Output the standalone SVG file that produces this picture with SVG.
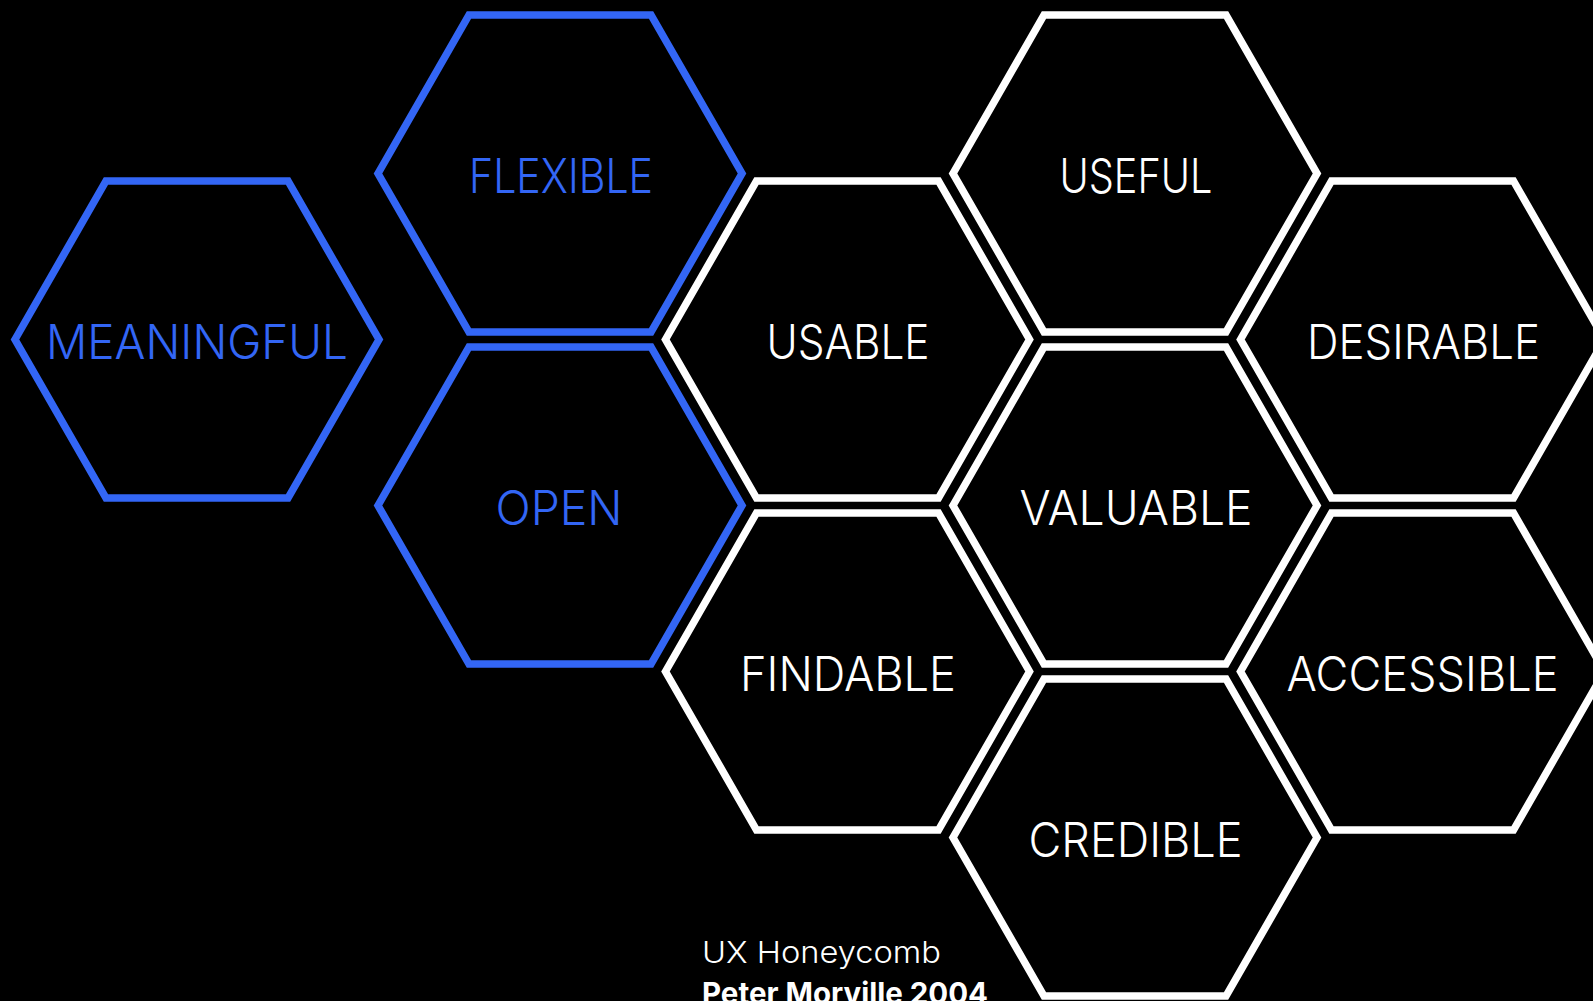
<svg xmlns="http://www.w3.org/2000/svg" xmlns:xlink="http://www.w3.org/1999/xlink" width="1593" height="1001" viewBox="0 0 1593 1001">
  <style>
    .hex { fill: #000000; stroke-width: 7.5; stroke-linejoin: miter; }
    .blue { stroke: #3366F5; }
    .white { stroke: #FFFFFF; }
    .lbl { font-family: Inter, "Liberation Sans", sans-serif; font-weight: 300; font-size: 48px; text-anchor: middle; }
    .lbl-blue { fill: #3366F5; }
    .lbl-white { fill: #FFFFFF; }
    .foot { font-family: Inter, "Liberation Sans", sans-serif; fill: #FFFFFF; font-size: 30px; }
  </style>
  <defs>
    <polygon id="hexshape" points="-182,0 -91,-158.5 91,-158.5 182,0 91,158.5 -91,158.5"/>
  </defs>
  <rect x="0" y="0" width="1593" height="1001" fill="#000000"/>
  <g id="connectors"/>

  <g id="meaningful">
    <use xlink:href="#hexshape" href="#hexshape" class="hex blue" transform="translate(197,339.5)"/>
    <text class="lbl lbl-blue" x="197" y="358.5" textLength="302" lengthAdjust="spacingAndGlyphs">MEANINGFUL</text>
  </g>
  <g id="flexible">
    <use xlink:href="#hexshape" href="#hexshape" class="hex blue" transform="translate(560,173.5)"/>
    <text class="lbl lbl-blue" x="561" y="192.5" textLength="184" lengthAdjust="spacingAndGlyphs">FLEXIBLE</text>
  </g>
  <g id="open">
    <use xlink:href="#hexshape" href="#hexshape" class="hex blue" transform="translate(560,505.5)"/>
    <text class="lbl lbl-blue" x="559" y="524.5" textLength="127" lengthAdjust="spacingAndGlyphs">OPEN</text>
  </g>
  <g id="usable">
    <use xlink:href="#hexshape" href="#hexshape" class="hex white" transform="translate(847.5,339.5)"/>
    <text class="lbl lbl-white" x="848" y="358.5" textLength="163" lengthAdjust="spacingAndGlyphs">USABLE</text>
  </g>
  <g id="findable">
    <use xlink:href="#hexshape" href="#hexshape" class="hex white" transform="translate(847.5,671.5)"/>
    <text class="lbl lbl-white" x="848" y="690.5" textLength="216" lengthAdjust="spacingAndGlyphs">FINDABLE</text>
  </g>
  <g id="useful">
    <use xlink:href="#hexshape" href="#hexshape" class="hex white" transform="translate(1135,173.5)"/>
    <text class="lbl lbl-white" x="1136" y="192.5" textLength="153" lengthAdjust="spacingAndGlyphs">USEFUL</text>
  </g>
  <g id="valuable">
    <use xlink:href="#hexshape" href="#hexshape" class="hex white" transform="translate(1135,505.5)"/>
    <text class="lbl lbl-white" x="1136" y="524.5" textLength="233" lengthAdjust="spacingAndGlyphs">VALUABLE</text>
  </g>
  <g id="credible">
    <use xlink:href="#hexshape" href="#hexshape" class="hex white" transform="translate(1135,837.5)"/>
    <text class="lbl lbl-white" x="1135.5" y="856.5" textLength="214" lengthAdjust="spacingAndGlyphs">CREDIBLE</text>
  </g>
  <g id="desirable">
    <use xlink:href="#hexshape" href="#hexshape" class="hex white" transform="translate(1422.5,339.5)"/>
    <text class="lbl lbl-white" x="1423.5" y="358.5" textLength="233" lengthAdjust="spacingAndGlyphs">DESIRABLE</text>
  </g>
  <g id="accessible">
    <use xlink:href="#hexshape" href="#hexshape" class="hex white" transform="translate(1422.5,671.5)"/>
    <text class="lbl lbl-white" x="1422.5" y="690.5" textLength="272" lengthAdjust="spacingAndGlyphs">ACCESSIBLE</text>
  </g>

  <g id="caption">
    <text class="foot" x="702" y="962.5" font-weight="300" textLength="239" lengthAdjust="spacingAndGlyphs">UX Honeycomb</text>
    <text class="foot" x="702" y="1003.5" font-weight="700" textLength="286" lengthAdjust="spacingAndGlyphs">Peter Morville 2004</text>
  </g>
</svg>
